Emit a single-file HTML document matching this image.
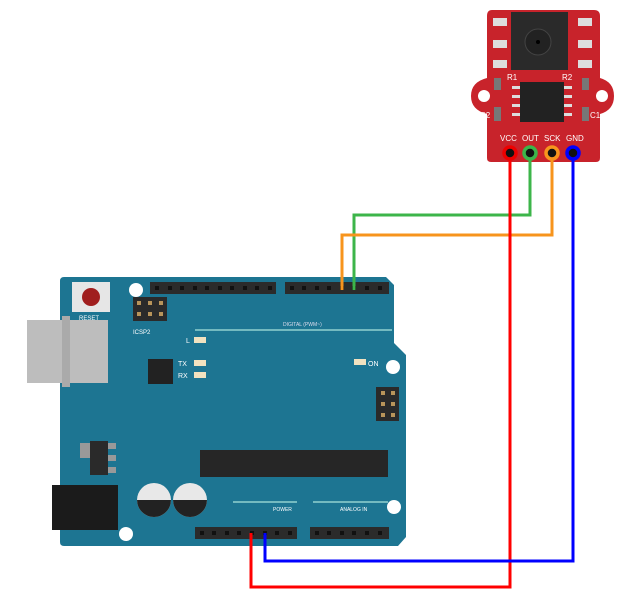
<!DOCTYPE html>
<html><head><meta charset="utf-8"><style>
body{margin:0;background:#fff}
svg{display:block}
text{font-family:"Liberation Sans",sans-serif}
</style></head><body>
<svg width="623" height="603" viewBox="0 0 623 603" xmlns="http://www.w3.org/2000/svg">
<!-- Arduino board -->
<path d="M64 277 L386 277 L394 285 L394 343 L406 355 L406 537 L398 546 L64 546 Q60 546 60 542 L60 281 Q60 277 64 277 Z" fill="#1d7592"/>
<!-- USB -->
<rect x="27" y="320" width="81" height="63" fill="#bdbdbd"/>
<rect x="62" y="316" width="8" height="71" fill="#aaa"/>
<!-- reset -->
<rect x="72" y="282" width="38" height="30" fill="#e6e6e6"/>
<circle cx="91" cy="297" r="9" fill="#a01e1e"/>
<text x="79" y="320" font-size="6" fill="#fff">RESET</text>
<circle cx="136" cy="290" r="7" fill="#fff"/>
<!-- ICSP2 -->
<rect x="133" y="297" width="34" height="24" fill="#2a2a2a"/>
<g fill="#b8945a"><rect x="137" y="301" width="4" height="4"/><rect x="148" y="301" width="4" height="4"/><rect x="159" y="301" width="4" height="4"/><rect x="137" y="312" width="4" height="4"/><rect x="148" y="312" width="4" height="4"/><rect x="159" y="312" width="4" height="4"/></g>
<text x="133" y="334" font-size="6" fill="#fff">ICSP2</text>
<!-- top headers -->
<rect x="150" y="282" width="126" height="12" fill="#2b2b2b"/>
<rect x="285" y="282" width="104" height="12" fill="#2b2b2b"/>
<g fill="#111">
<rect x="155" y="286" width="4" height="4"/><rect x="168" y="286" width="4" height="4"/><rect x="180" y="286" width="4" height="4"/><rect x="193" y="286" width="4" height="4"/><rect x="205" y="286" width="4" height="4"/><rect x="218" y="286" width="4" height="4"/><rect x="230" y="286" width="4" height="4"/><rect x="243" y="286" width="4" height="4"/><rect x="255" y="286" width="4" height="4"/><rect x="268" y="286" width="4" height="4"/>
<rect x="290" y="286" width="4" height="4"/><rect x="302" y="286" width="4" height="4"/><rect x="315" y="286" width="4" height="4"/><rect x="327" y="286" width="4" height="4"/><rect x="340" y="286" width="4" height="4"/><rect x="352" y="286" width="4" height="4"/><rect x="365" y="286" width="4" height="4"/><rect x="378" y="286" width="4" height="4"/>
</g>
<g font-size="5" fill="#dde">
<text x="283" y="326">DIGITAL (PWM~)</text>
</g>
<line x1="195" y1="330" x2="392" y2="330" stroke="#cfe" stroke-width="1"/>
<!-- LEDs -->
<text x="186" y="343" font-size="7" fill="#fff">L</text><rect x="194" y="337" width="12" height="6" fill="#f1e2c0"/>
<text x="178" y="366" font-size="7" fill="#fff">TX</text><rect x="194" y="360" width="12" height="6" fill="#f1e2c0"/>
<text x="178" y="378" font-size="7" fill="#fff">RX</text><rect x="194" y="372" width="12" height="6" fill="#f1e2c0"/>
<rect x="354" y="359" width="12" height="6" fill="#f1e2c0"/><text x="368" y="366" font-size="7" fill="#fff">ON</text>
<circle cx="393" cy="367" r="7" fill="#fff"/>
<rect x="148" y="359" width="25" height="25" fill="#222"/>
<!-- ICSP -->
<rect x="376" y="387" width="23" height="34" fill="#2a2a2a"/>
<g fill="#b8945a"><rect x="381" y="391" width="4" height="4"/><rect x="391" y="391" width="4" height="4"/><rect x="381" y="402" width="4" height="4"/><rect x="391" y="402" width="4" height="4"/><rect x="381" y="413" width="4" height="4"/><rect x="391" y="413" width="4" height="4"/></g>
<!-- chip -->
<rect x="200" y="450" width="188" height="27" fill="#262626"/>
<!-- regulator -->
<rect x="80" y="443" width="10" height="15" fill="#999"/>
<rect x="90" y="441" width="18" height="34" fill="#2a2a2a"/>
<g fill="#999"><rect x="108" y="443" width="8" height="6"/><rect x="108" y="455" width="8" height="6"/><rect x="108" y="467" width="8" height="6"/></g>
<!-- jack -->
<rect x="52" y="485" width="66" height="45" fill="#1b1b1b"/>
<!-- caps -->
<circle cx="154" cy="500" r="17" fill="#e8e8e8"/><path d="M137 500 A17 17 0 0 0 171 500 Z" fill="#222"/>
<circle cx="190" cy="500" r="17" fill="#e8e8e8"/><path d="M173 500 A17 17 0 0 0 207 500 Z" fill="#222"/>
<circle cx="126" cy="534" r="7" fill="#fff"/>
<circle cx="394" cy="507" r="7" fill="#fff"/>
<!-- power text -->
<line x1="233" y1="502" x2="297" y2="502" stroke="#cfe"/>
<line x1="313" y1="502" x2="388" y2="502" stroke="#cfe"/>
<text x="273" y="511" font-size="5" fill="#fff">POWER</text>
<text x="340" y="511" font-size="5" fill="#fff">ANALOG IN</text>
<!-- bottom headers -->
<rect x="195" y="527" width="102" height="12" fill="#2b2b2b"/>
<rect x="310" y="527" width="79" height="12" fill="#2b2b2b"/>
<g fill="#111">
<rect x="200" y="531" width="4" height="4"/><rect x="212" y="531" width="4" height="4"/><rect x="225" y="531" width="4" height="4"/><rect x="237" y="531" width="4" height="4"/><rect x="250" y="531" width="4" height="4"/><rect x="263" y="531" width="4" height="4"/><rect x="275" y="531" width="4" height="4"/><rect x="288" y="531" width="4" height="4"/>
<rect x="315" y="531" width="4" height="4"/><rect x="327" y="531" width="4" height="4"/><rect x="340" y="531" width="4" height="4"/><rect x="352" y="531" width="4" height="4"/><rect x="365" y="531" width="4" height="4"/><rect x="378" y="531" width="4" height="4"/>
</g>
<!-- sensor board -->
<path d="M492 10 L594 10 Q600 10 600 16 L600 78 Q614 82 614 96 Q614 110 600 114 L600 158 Q600 162 596 162 L491 162 Q487 162 487 158 L487 114 Q471 110 471 96 Q471 82 487 78 L487 16 Q487 10 492 10 Z" fill="#c8232b"/>
<circle cx="484" cy="96" r="6" fill="#fff"/><circle cx="602" cy="96" r="6" fill="#fff"/>
<g fill="#ddd"><rect x="493" y="18" width="14" height="8"/><rect x="493" y="40" width="14" height="8"/><rect x="493" y="60" width="14" height="8"/><rect x="578" y="18" width="14" height="8"/><rect x="578" y="40" width="14" height="8"/><rect x="578" y="60" width="14" height="8"/></g>
<rect x="511" y="12" width="57" height="58" fill="#2a2a2a"/>
<circle cx="538" cy="42" r="13" fill="#222" stroke="#444"/><circle cx="538" cy="42" r="2" fill="#000"/>
<rect x="520" y="82" width="44" height="40" fill="#222"/>
<g fill="#ddd"><rect x="512" y="86" width="8" height="3"/><rect x="512" y="95" width="8" height="3"/><rect x="512" y="104" width="8" height="3"/><rect x="512" y="113" width="8" height="3"/><rect x="564" y="86" width="8" height="3"/><rect x="564" y="95" width="8" height="3"/><rect x="564" y="104" width="8" height="3"/><rect x="564" y="113" width="8" height="3"/></g>
<g fill="#777"><rect x="494" y="78" width="7" height="12"/><rect x="582" y="78" width="7" height="12"/><rect x="494" y="107" width="7" height="14"/><rect x="582" y="107" width="7" height="14"/></g>
<g font-size="8" fill="#fff"><text x="507" y="80">R1</text><text x="562" y="80">R2</text><text x="480" y="118">C2</text><text x="590" y="118">C1</text>
<text x="500" y="141">VCC</text><text x="522" y="141">OUT</text><text x="544" y="141">SCK</text><text x="566" y="141">GND</text></g>
<!-- wires -->
<g fill="none" stroke-width="3">
<polyline points="530,153 530,215 354,215 354,290" stroke="#3cb54a"/>
<polyline points="552,153 552,235 342,235 342,290" stroke="#f7941d"/>
<polyline points="510,153 510,587 251,587 251,533" stroke="#f00"/>
<polyline points="573,153 573,561 265,561 265,533" stroke="#00f"/>
</g>
<circle cx="510" cy="153" r="6" fill="#111" stroke="#e00" stroke-width="3.5"/>
<circle cx="530" cy="153" r="6" fill="#111" stroke="#3cb54a" stroke-width="3.5"/>
<circle cx="552" cy="153" r="6" fill="#111" stroke="#f7941d" stroke-width="3.5"/>
<circle cx="573" cy="153" r="6" fill="#111" stroke="#00f" stroke-width="3.5"/>
</svg>
</body></html>
